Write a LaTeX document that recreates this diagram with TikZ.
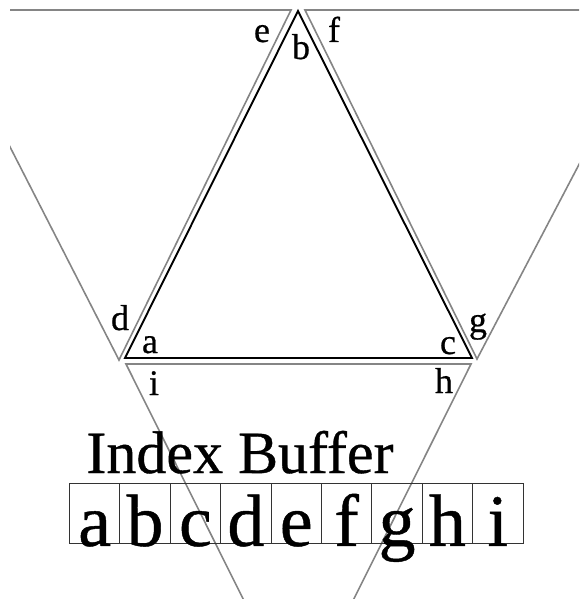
\documentclass[tikz,border=0pt]{standalone}
\usepackage{fontspec}
\setmainfont{Liberation Serif}[FakeBold=0.6]
\begin{document}
\begin{tikzpicture}[x=1pt,y=-1pt,
  blk/.style={draw=black,line width=1.9pt,line join=miter},
  gry/.style={draw=black!48,line width=1.6pt,line join=miter},
  lbl/.style={anchor=base,inner sep=0pt,font=\fontsize{36}{40}\selectfont},
  cellbox/.style={draw=black!80,line width=0.9pt,minimum width=50.4pt,minimum height=60pt,inner sep=0pt,anchor=north west},
  cellchar/.style={anchor=base,inner sep=0pt,font=\fontsize{74}{80}\selectfont},
  title/.style={anchor=base,inner sep=0pt,font=\fontsize{60}{66}\selectfont}]
\useasboundingbox (0,0) rectangle (579,599);
% central triangle
\coordinate (A) at (125,358);
\coordinate (B) at (298,11);
\coordinate (C) at (472,358);
% neighbour triangles
\coordinate (D) at (119,360);
\coordinate (E) at (291,10);
\coordinate (EL) at (-60,10);
\coordinate (F) at (305,10);
\coordinate (G) at (477,359);
\coordinate (FR) at (660,10);
\coordinate (I) at (126,364);
\coordinate (H) at (471,364);
\coordinate (BOT) at (298.5,710);
\begin{scope}
\clip (10,0) rectangle (579,599);
\draw[gry] (EL) -- (E) -- (D) -- cycle;
\draw[gry] (F) -- (FR) -- (G) -- cycle;
\draw[gry] (I) -- (H) -- (BOT) -- cycle;
\end{scope}
\draw[blk] (A) -- (B) -- (C) -- cycle;
% vertex labels
\node[lbl] (le) at (262,42) {e};
\node[lbl] (lb) at (301,59) {b};
\node[lbl] (lf) at (334,42) {f};
\node[lbl] (ld) at (120,330) {d};
\node[lbl] (la) at (150,353) {a};
\node[lbl] (lc) at (448,354) {c};
\node[lbl] (lg) at (478,332) {g};
\node[lbl] (li) at (154,395) {i};
\node[lbl] (lh) at (444,393) {h};
% index buffer
\node[title] (ttl) at (240,473) {Index Buffer};
\foreach \ch [count=\k from 0] in {a,b,c,d,e,f,g,h,i} {
  \node[cellbox] (box\k) at (69+50.4*\k,483) {};
  \node[cellchar] (chr\k) at ([yshift=-2pt]box\k.south) {\ch};
}
\end{tikzpicture}
\end{document}
